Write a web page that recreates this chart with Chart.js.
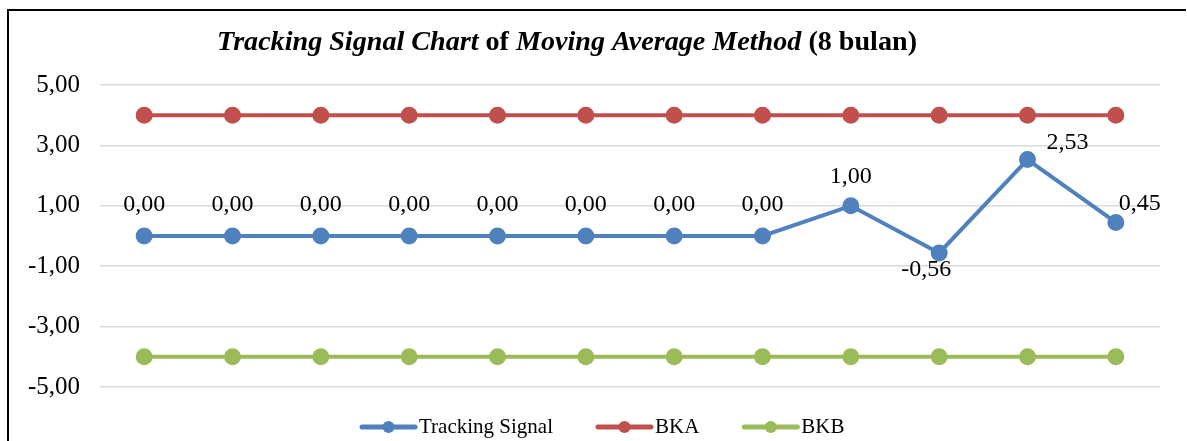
<!DOCTYPE html>
<html>
<head>
<meta charset="utf-8">
<script src="https://cdn.jsdelivr.net/npm/chart.js@4/dist/chart.umd.min.js"></script>
<style>
html,body{margin:0;padding:0;background:#fff;}
#wrap{position:relative;width:1187px;height:441px;}
</style>
</head>
<body>
<div id="wrap"><canvas id="c" width="1187" height="441"></canvas></div>
<script>
const categories = ['1','2','3','4','5','6','7','8','9','10','11','12'];
const trackingSignal = [0, 0, 0, 0, 0, 0, 0, 0, 1.00, -0.56, 2.53, 0.45];
const bka = [4, 4, 4, 4, 4, 4, 4, 4, 4, 4, 4, 4];
const bkb = [-4, -4, -4, -4, -4, -4, -4, -4, -4, -4, -4, -4];
const seriesNames = ['Tracking Signal', 'BKA', 'BKB'];
const yTicks = [-5, -3, -1, 1, 3, 5];

const fmt = v => v.toFixed(2).replace('.', ',');
const SERIF = '"Liberation Serif", "Times New Roman", serif';

// label offsets (dx, dy) relative to point, pixels
const labelOffsets = [[0,-31],[0,-31],[0,-31],[0,-31],[0,-31],[0,-31],[0,-31],[0,-31],[0,-29],[-13,17],[40,-17],[24,-19]];

const framePlugin = {
  id: 'frame',
  afterDraw(chart) {
    const ctx = chart.ctx;
    ctx.save();
    ctx.strokeStyle = '#000';
    ctx.lineWidth = 2;
    ctx.beginPath();
    ctx.moveTo(8, 441);
    ctx.lineTo(8, 10);
    ctx.lineTo(1186, 10);
    ctx.stroke();

    // title with mixed styles, horizontally condensed
    const parts = [
      ['italic bold', 'Tracking Signal Chart'],
      ['bold', ' of '],
      ['italic bold', 'Moving Average Method'],
      ['bold', ' (8 bulan)']
    ];
    const size = 28;
    let total = 0;
    parts.forEach(p => { ctx.font = p[0] + ' ' + size + 'px ' + SERIF; total += ctx.measureText(p[1]).width; });
    const targetW = 700, left = 217, baseline = 50;
    const sx = targetW / total;
    ctx.translate(left, baseline);
    ctx.scale(sx, 1);
    ctx.fillStyle = '#000';
    ctx.textBaseline = 'alphabetic';
    ctx.textAlign = 'left';
    let x = 0;
    parts.forEach(p => { ctx.font = p[0] + ' ' + size + 'px ' + SERIF; ctx.fillText(p[1], x, 0); x += ctx.measureText(p[1]).width; });
    ctx.restore();

    // data labels for tracking signal
    const meta = chart.getDatasetMeta(0);
    ctx.save();
    ctx.font = '24px ' + SERIF;
    ctx.fillStyle = '#000';
    ctx.textAlign = 'center';
    ctx.textBaseline = 'middle';
    meta.data.forEach((pt, i) => {
      const o = labelOffsets[i];
      ctx.fillText(fmt(chart.data.datasets[0].data[i]), pt.x + o[0], pt.y + o[1]);
    });
    ctx.restore();

    // legend
    ctx.save();
    ctx.font = '21px ' + SERIF;
    ctx.textBaseline = 'middle';
    ctx.textAlign = 'left';
    let lx = 362;
    const ly = 427;
    chart.data.datasets.forEach(ds => {
      ctx.strokeStyle = ds.borderColor;
      ctx.lineWidth = 5;
      ctx.lineCap = 'round';
      ctx.beginPath(); ctx.moveTo(lx, ly); ctx.lineTo(lx + 53, ly); ctx.stroke();
      ctx.fillStyle = ds.borderColor;
      ctx.beginPath(); ctx.arc(lx + 26.5, ly, 6, 0, Math.PI * 2); ctx.fill();
      ctx.fillStyle = '#000';
      ctx.fillText(ds.label, lx + 57, ly);
      lx += 57 + ctx.measureText(ds.label).width + 45;
    });
    ctx.restore();
  }
};

const mk = (label, data, color) => ({
  label, data,
  borderColor: color, backgroundColor: color,
  pointBackgroundColor: color, pointBorderColor: color,
  borderWidth: 4, pointRadius: 6.5, pointHoverRadius: 6.5, tension: 0
});

new Chart(document.getElementById('c'), {
  type: 'line',
  data: {
    labels: categories,
    datasets: [
      mk(seriesNames[0], trackingSignal, '#4F81BD'),
      mk(seriesNames[1], bka, '#C0504D'),
      mk(seriesNames[2], bkb, '#9BBB59')
    ]
  },
  options: {
    responsive: false,
    animation: false,
    layout: { padding: { top: 85, right: 27, bottom: 54, left: 0 } },
    plugins: { legend: { display: false }, title: { display: false }, tooltip: { enabled: false } },
    scales: {
      x: { display: false, offset: true },
      y: {
        min: -5, max: 5,
        afterBuildTicks(scale) { scale.ticks = yTicks.map(v => ({ value: v })); },
        afterFit(scale) { scale.width = 100; },
        border: { display: false },
        grid: { color: '#D9D9D9', lineWidth: 1.5, drawTicks: false },
        ticks: {
          padding: 20,
          color: '#000',
          font: { family: SERIF, size: 25 },
          callback: v => fmt(v)
        }
      }
    }
  },
  plugins: [framePlugin]
});
</script>
</body>
</html>
